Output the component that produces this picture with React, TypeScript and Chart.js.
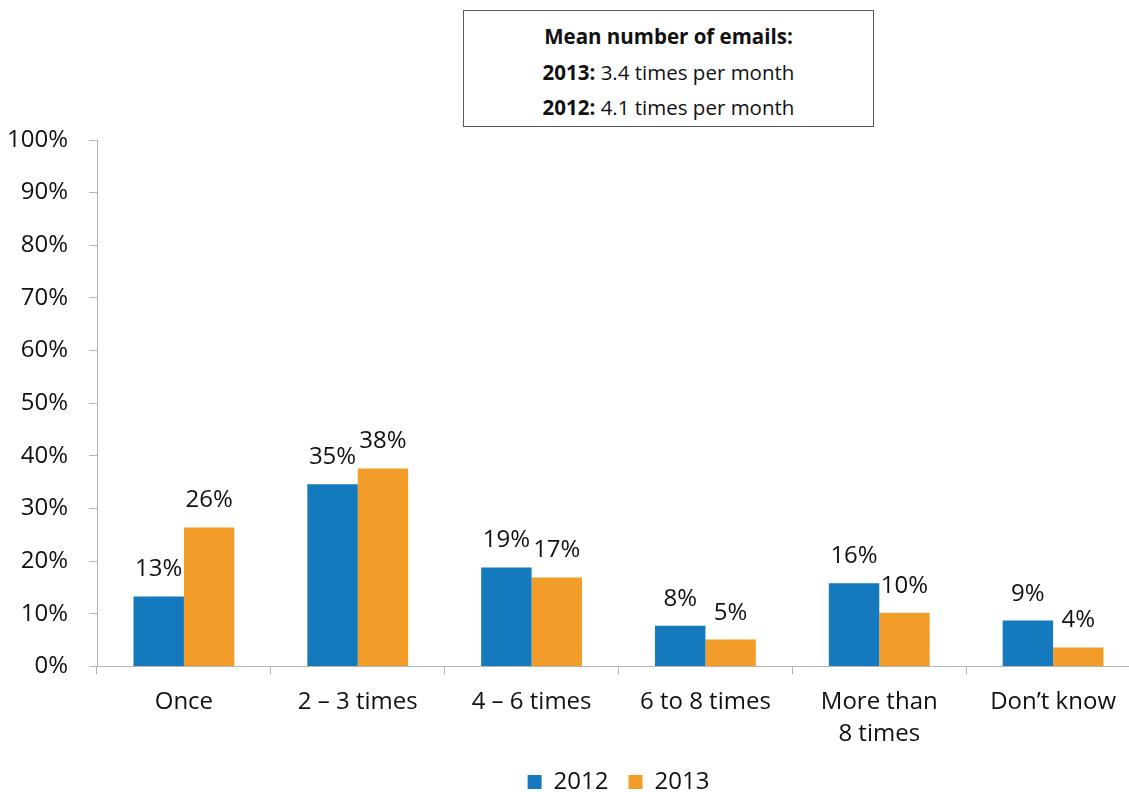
import React, { useEffect, useRef } from "react";
import { Chart, registerables } from "chart.js";

Chart.register(...registerables);

const categories: (string | string[])[] = [
  "Once",
  "2 – 3 times",
  "4 – 6 times",
  "6 to 8 times",
  ["More than", "8 times"],
  "Don’t know",
];
const series2012 = [13.3, 34.6, 18.8, 7.7, 15.8, 8.7];
const series2013 = [26.4, 37.6, 16.9, 5.1, 10.2, 3.6];
const labels2012 = ["13%", "35%", "19%", "8%", "16%", "9%"];
const labels2013 = ["26%", "38%", "17%", "5%", "10%", "4%"];
const seriesNames = ["2012", "2013"];
const yTicks = [0, 10, 20, 30, 40, 50, 60, 70, 80, 90, 100];
const boxTitle = "Mean number of emails:";
const boxLines = [
  { bold: "2013:", rest: " 3.4 times per month" },
  { bold: "2012:", rest: " 4.1 times per month" },
];

const FONT = "'Open Sans', 'Noto Sans', sans-serif";
const BLUE = "#1479bd";
const ORANGE = "#f29c2a";
const TEXT = "#111111";
const AXIS = "#b3b3b3";

const valueLabelPlugin = {
  id: "valueLabels",
  afterDatasetsDraw(chart: any) {
    const ctx = chart.ctx;
    const texts = [labels2012, labels2013];
    ctx.save();
    ctx.font = `24px ${FONT}`;
    ctx.fillStyle = TEXT;
    ctx.textAlign = "center";
    ctx.textBaseline = "alphabetic";
    chart.data.datasets.forEach((_ds: any, di: number) => {
      const meta = chart.getDatasetMeta(di);
      meta.data.forEach((bar: any, i: number) => {
        ctx.fillText(texts[di][i], bar.x, bar.y - 20);
      });
    });
    ctx.restore();
  },
};

export default function App() {
  const canvasRef = useRef<HTMLCanvasElement | null>(null);

  useEffect(() => {
    if (!canvasRef.current) return;
    const chart = new Chart(canvasRef.current, {
      type: "bar",
      data: {
        labels: categories,
        datasets: [
          {
            label: seriesNames[0],
            data: series2012,
            backgroundColor: BLUE,
            borderWidth: 0,
            categoryPercentage: 0.58,
            barPercentage: 1,
          },
          {
            label: seriesNames[1],
            data: series2013,
            backgroundColor: ORANGE,
            borderWidth: 0,
            categoryPercentage: 0.58,
            barPercentage: 1,
          },
        ],
      },
      options: {
        animation: false,
        responsive: true,
        maintainAspectRatio: false,
        layout: { padding: { top: 140, right: 5, left: 0, bottom: 0 } },
        plugins: {
          tooltip: { enabled: false },
          legend: {
            position: "bottom",
            fullSize: false,
            labels: {
              boxWidth: 14,
              boxHeight: 14,
              padding: 20,
              color: TEXT,
              font: { family: FONT, size: 24 },
            },
          },
        },
        scales: {
          x: {
            afterFit(scale: any) {
              scale.height = 83.6;
            },
            grid: {
              display: true,
              drawOnChartArea: false,
              drawTicks: true,
              tickLength: 8,
              color: AXIS,
              offset: true,
            },
            border: { display: true, color: AXIS, width: 1 },
            ticks: {
              color: TEXT,
              padding: 11,
              maxRotation: 0,
              autoSkip: false,
              font: { family: FONT, size: 24, lineHeight: 1.36 },
            },
          },
          y: {
            min: 0,
            max: 100,
            afterFit(scale: any) {
              scale.width = 97;
            },
            afterBuildTicks(scale: any) {
              scale.ticks = yTicks.map((v) => ({ value: v }));
            },
            grid: {
              display: true,
              drawOnChartArea: false,
              drawTicks: true,
              tickLength: 8,
              color: AXIS,
            },
            border: { display: true, color: AXIS, width: 1 },
            ticks: {
              color: TEXT,
              padding: 21,
              font: { family: FONT, size: 24 },
              callback: (v: any) => `${v}%`,
            },
          },
        },
      },
      plugins: [valueLabelPlugin],
    } as any);
    return () => chart.destroy();
  }, []);

  return (
    <div
      style={{
        position: "absolute",
        left: 0,
        top: 0,
        width: 1129,
        height: 792,
        overflow: "hidden",
        background: "#ffffff",
      }}
    >
      <div style={{ position: "absolute", left: 0, top: 0, width: 1145, height: 804 }}>
        <canvas ref={canvasRef} />
      </div>
      <div
        style={{
          position: "absolute",
          left: 463,
          top: 10,
          width: 411,
          height: 117,
          boxSizing: "border-box",
          border: "1px solid #5a5a5a",
          background: "#ffffff",
          fontFamily: FONT,
          fontSize: 20.5,
          lineHeight: "35.5px",
          color: TEXT,
          textAlign: "center",
          paddingTop: 8,
        }}
      >
        <div style={{ fontWeight: 700 }}>{boxTitle}</div>
        {boxLines.map((l, i) => (
          <div key={i}>
            <span style={{ fontWeight: 700 }}>{l.bold}</span>
            {l.rest}
          </div>
        ))}
      </div>
    </div>
  );
}
